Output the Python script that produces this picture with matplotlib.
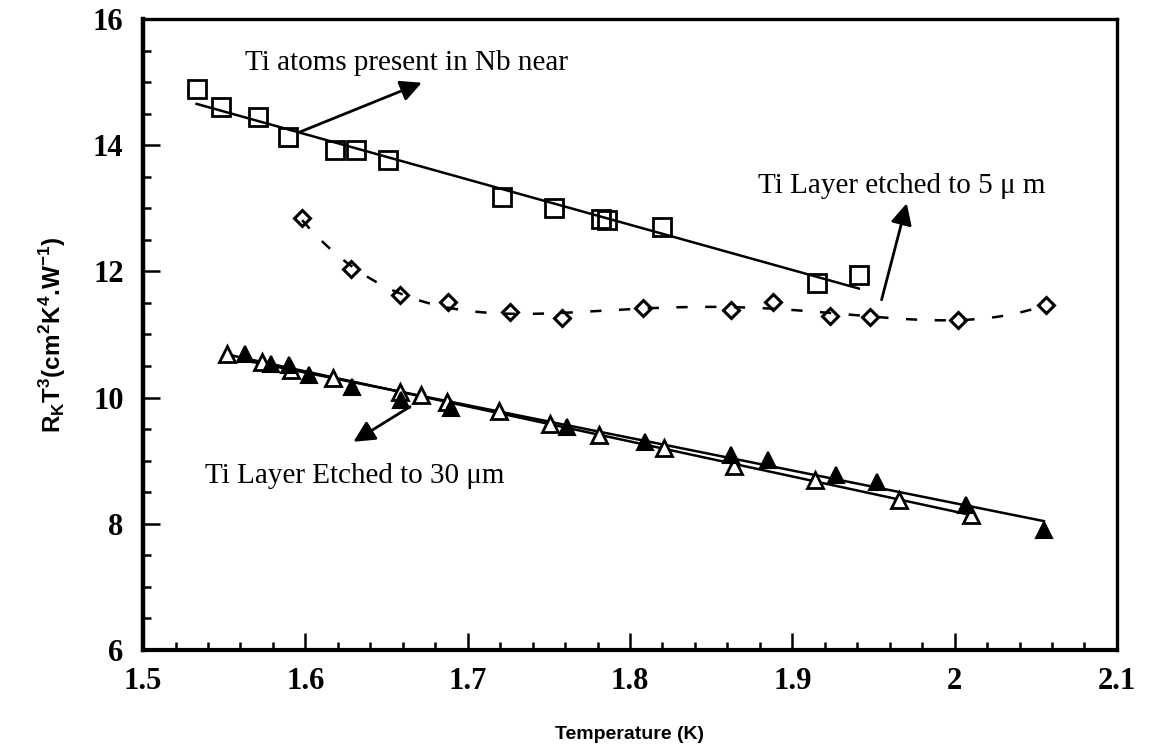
import numpy as np
import matplotlib.pyplot as plt
from matplotlib.ticker import MultipleLocator, FuncFormatter

# Ti atoms present in Nb near (open squares)
sq_x = [1.533, 1.548, 1.571, 1.589, 1.618, 1.631, 1.651, 1.721, 1.753, 1.782, 1.786, 1.820, 1.915, 1.941]
sq_y = [14.89, 14.61, 14.45, 14.13, 13.92, 13.92, 13.77, 13.18, 13.00, 12.83, 12.81, 12.71, 11.81, 11.94]

# Ti layer etched to 5 um (open diamonds)
dm_x = [1.598, 1.628, 1.658, 1.688, 1.726, 1.758, 1.808, 1.862, 1.888, 1.923, 1.948, 2.002, 2.056]
dm_y = [12.84, 12.03, 11.63, 11.52, 11.35, 11.26, 11.42, 11.39, 11.52, 11.29, 11.28, 11.23, 11.47]

# Ti layer etched to 30 um (open and filled triangles)
ot_x = [1.552, 1.573, 1.591, 1.617, 1.658, 1.671, 1.687, 1.719, 1.751, 1.781, 1.821, 1.864, 1.914, 1.966, 2.010]
ot_y = [10.69, 10.57, 10.44, 10.31, 10.09, 10.04, 9.93, 9.78, 9.58, 9.41, 9.20, 8.91, 8.69, 8.38, 8.14]
ft_x = [1.563, 1.579, 1.590, 1.602, 1.629, 1.659, 1.690, 1.761, 1.809, 1.862, 1.885, 1.927, 1.952, 2.007, 2.055]
ft_y = [10.69, 10.54, 10.52, 10.36, 10.17, 9.96, 9.83, 9.54, 9.30, 9.09, 9.01, 8.77, 8.67, 8.30, 7.90]

plt.rcParams["figure.figsize"] = (11.49, 7.56)
serif = "Liberation Serif"
sans = "Liberation Sans"

fig = plt.figure(dpi=100)
ax = fig.add_axes([0.1245, 0.1402, 0.8476, 0.8347])


def fit_line(x, y, deg, n=200):
    x = np.array(x)
    c = np.polyfit(x - x.mean(), y, deg)
    xs = np.linspace(x.min(), x.max(), n)
    return xs, np.polyval(c, xs - x.mean())


lw = 1.8
ax.plot(*fit_line(sq_x, sq_y, 1), color="black", linewidth=lw)
ax.plot(*fit_line(dm_x, dm_y, 4), color="black", linewidth=1.8, linestyle=(0, (4.5, 7)))
ax.plot(*fit_line(ot_x, ot_y, 1), color="black", linewidth=lw)
ax.plot(*fit_line(ft_x, ft_y, 1), color="black", linewidth=lw)

ax.plot(sq_x, sq_y, linestyle="none", marker="s", markersize=13, markerfacecolor="none",
        markeredgecolor="black", markeredgewidth=2)
ax.plot(dm_x, dm_y, linestyle="none", marker="D", markersize=8.5, markerfacecolor="none",
        markeredgecolor="black", markeredgewidth=2.2)
ax.plot(ot_x, ot_y, linestyle="none", marker="^", markersize=12, markerfacecolor="white",
        markeredgecolor="black", markeredgewidth=2)
ax.plot(ft_x, ft_y, linestyle="none", marker="^", markersize=12, markerfacecolor="black",
        markeredgecolor="black", markeredgewidth=1.5)

arrow = dict(arrowstyle="-|>", mutation_scale=32, linewidth=2, color="black", shrinkA=0, shrinkB=0)
ax.annotate("", xy=(1.6717, 14.99), xytext=(1.5967, 14.21), arrowprops=arrow)
ax.annotate("", xy=(1.9705, 13.08), xytext=(1.955, 11.55), arrowprops=arrow)
ax.annotate("", xy=(1.6296, 9.30), xytext=(1.6645, 9.856), arrowprops=arrow)

ax.text(1.5628, 15.19, "Ti atoms present in Nb near", family=serif, fontsize=21, va="baseline")
ax.text(1.879, 13.24, "Ti Layer etched to 5 \u03bc m", family=serif, fontsize=21, va="baseline")
ax.text(1.538, 8.647, "Ti Layer Etched to 30 \u03bcm", family=serif, fontsize=21, va="baseline")

ax.set_xlim(1.5, 2.1)
ax.set_ylim(6, 16)
ax.xaxis.set_major_locator(MultipleLocator(0.1))
ax.xaxis.set_minor_locator(MultipleLocator(0.02))
ax.yaxis.set_major_locator(MultipleLocator(2))
ax.yaxis.set_minor_locator(MultipleLocator(0.5))
ax.xaxis.set_major_formatter(FuncFormatter(lambda v, p: "%g" % round(v, 2)))
ax.yaxis.set_major_formatter(FuncFormatter(lambda v, p: "%g" % v))
ax.tick_params(which="both", direction="in", top=False, right=False, width=1.8)
ax.tick_params(which="major", length=12)
ax.tick_params(which="minor", length=6)
ax.tick_params(axis="x", pad=12)
ax.tick_params(axis="y", pad=14)
for lab in ax.get_xticklabels() + ax.get_yticklabels():
    lab.set_family(serif)
    lab.set_fontweight("bold")
    lab.set_fontsize(22)

for s in ax.spines.values():
    s.set_linewidth(2.4)
ax.spines["left"].set_linewidth(3.2)
ax.spines["bottom"].set_linewidth(3.0)

ax.set_xlabel("Temperature (K)", family=sans, fontweight="bold", fontsize=14, labelpad=22)
ax.set_ylabel(r"R$_\mathregular{K}$T$^\mathregular{3}$(cm$^\mathregular{2}$K$^\mathregular{4}$.W$^\mathregular{-1}$)",
              family=sans, fontweight="bold", fontsize=17.5, labelpad=18)

fig.savefig("out.png", dpi=100)
